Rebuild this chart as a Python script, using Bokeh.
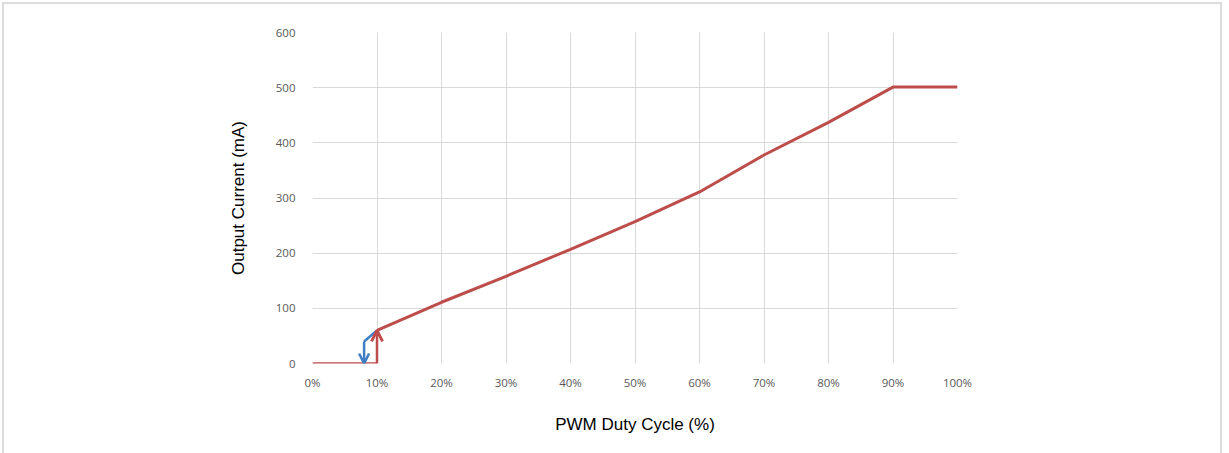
from bokeh.plotting import figure
from bokeh.models import FixedTicker, PrintfTickFormatter, Arrow, OpenHead, Range1d
from bokeh.embed import file_html
from bokeh.resources import INLINE

# Data (duty cycle %, current mA)
duty = [0, 10, 10, 20, 30, 40, 50, 60, 70, 80, 90, 100]
current = [0, 0, 60, 111, 158, 207, 257, 311, 378, 437, 501, 501]
# falling-threshold (blue) path
blue_duty = [10, 8, 8]
blue_current = [60, 40, 0]
x_ticks = [0, 10, 20, 30, 40, 50, 60, 70, 80, 90, 100]
y_ticks = [0, 100, 200, 300, 400, 500, 600]

RED = "#bd4d4b"
BLUE = "#3f7dc4"

p = figure(width=1220, height=455, output_backend="svg", toolbar_location=None,
           x_range=Range1d(0, 100), y_range=Range1d(0, 600),
           min_border_left=308, min_border_right=267, min_border_top=28, min_border_bottom=96,
           margin=(2, 0, 0, 2))
p.styles = {"border": "2px solid #dcdcdc", "box-sizing": "border-box"}
p.outline_line_color = None

p.xaxis.ticker = FixedTicker(ticks=x_ticks)
p.yaxis.ticker = FixedTicker(ticks=y_ticks)
p.xaxis.formatter = PrintfTickFormatter(format="%d%%")
for ax in (p.xaxis, p.yaxis):
    ax.axis_line_color = None
    ax.major_tick_line_color = None
    ax.minor_tick_line_color = None
    ax.major_label_text_font = "Open Sans"
    ax.major_label_text_font_size = "11.5px"
    ax.major_label_text_color = "#595959"
    ax.axis_label_text_font = "Liberation Sans"
    ax.axis_label_text_font_size = "17px"
    ax.axis_label_text_font_style = "normal"
    ax.axis_label_text_color = "#000000"
p.xaxis.major_label_standoff = 5
p.yaxis.major_label_standoff = 11
p.xaxis.axis_label = "PWM Duty Cycle (%)"
p.yaxis.axis_label = "Output Current (mA)"
p.xaxis.axis_label_standoff = 22
p.yaxis.axis_label_standoff = 25

p.xgrid.ticker = FixedTicker(ticks=x_ticks)
p.ygrid.ticker = FixedTicker(ticks=y_ticks)
p.grid.grid_line_color = "#d9d9d9"
p.grid.grid_line_width = 1

# blue path
p.line(blue_duty[:2], blue_current[:2], line_color=BLUE, line_width=2.5)
p.add_layout(Arrow(x_start=blue_duty[1], y_start=blue_current[1], x_end=blue_duty[2], y_end=blue_current[2],
                   line_color=BLUE, line_width=2.5,
                   end=OpenHead(size=10, line_color=BLUE, line_width=2.5)))

# red main curve (horizontal part and rising part)
p.line(duty[:2], current[:2], line_color=RED, line_width=2.5)
p.line(duty[2:], current[2:], line_color=RED, line_width=3)
p.add_layout(Arrow(x_start=duty[1], y_start=current[1], x_end=duty[2], y_end=current[2],
                   line_color=RED, line_width=2.5,
                   end=OpenHead(size=11, line_color=RED, line_width=3)))

open("out.html", "w").write(file_html(p, INLINE))
